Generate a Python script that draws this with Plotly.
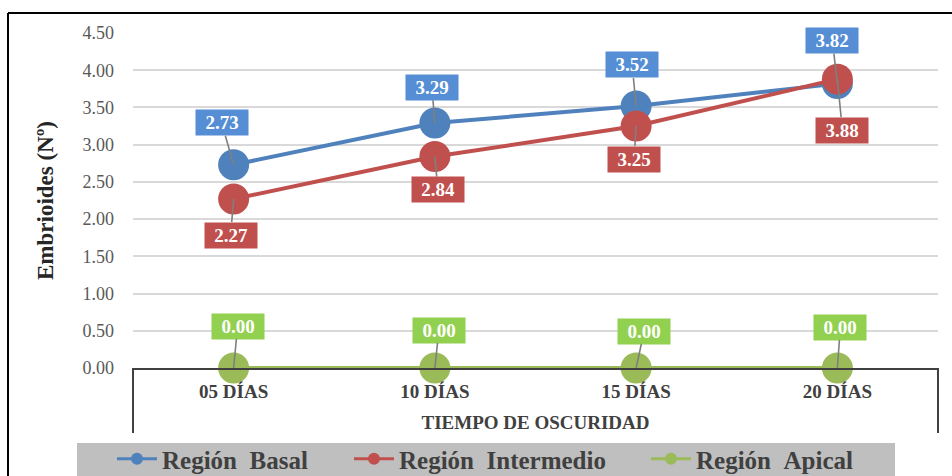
import plotly.graph_objects as go

# ---------------- data ----------------
categories = ["05 DÍAS", "10 DÍAS", "15 DÍAS", "20 DÍAS"]
basal = [2.73, 3.29, 3.52, 3.82]
intermedio = [2.27, 2.84, 3.25, 3.88]
apical = [0.00, 0.00, 0.00, 0.00]
series_names = ["Región\u00a0\u00a0Basal", "Región\u00a0\u00a0Intermedio", "Región\u00a0\u00a0Apical"]
y_ticks = [0, 0.5, 1.0, 1.5, 2.0, 2.5, 3.0, 3.5, 4.0, 4.5]

# ---------------- styles ----------------
line_colors = ["#4F81BD", "#C0504D", "#9BBB59"]
label_colors = ["#558ED5", "#C0504D", "#92D050"]
# label offsets (pixels) relative to each point
label_offsets = [
    [(-12, -42), (-3, -36), (-4, -41), (-5, -43)],
    [(-3, 36), (3, 33), (-2, 33), (5, 51)],
    [(4, -42), (4, -38), (8, -37), (3, -41)],
]
SERIF = "Liberation Serif, Times New Roman, serif"

series = [basal, intermedio, apical]

fig = go.Figure()
for vals, name, col in zip(series, series_names, line_colors):
    fig.add_trace(go.Scatter(
        x=categories, y=vals, mode="lines+markers", name=name,
        line=dict(color=col, width=4),
        marker=dict(color=col, size=31),
        cliponaxis=False, showlegend=False, hoverinfo="skip",
    ))

legend_ids = ["legend", "legend2", "legend3"]
for name, col, lid in zip(series_names, line_colors, legend_ids):
    fig.add_trace(go.Scatter(
        x=[None], y=[None], mode="lines+markers", name=name,
        line=dict(color=col, width=3), marker=dict(color=col, size=12),
        showlegend=True, legend=lid,
    ))

annotations = []
for vals, col, offs in zip(series, label_colors, label_offsets):
    for cat, v, (dx, dy) in zip(categories, vals, offs):
        annotations.append(dict(
            x=cat, y=v, xref="x", yref="y", text=f"<b>{v:.2f}</b>",
            showarrow=True, arrowhead=0, arrowwidth=1.6, arrowcolor="#7F7F7F",
            standoff=0, ax=dx, ay=dy,
            bgcolor=col, borderpad=2, width=48, height=21,
            font=dict(family=SERIF, size=19, color="white"),
        ))

plot_w = 952 - 133 - 14
plot_h = 476 - 33 - 108

def px_x(p):
    return (p - 133) / plot_w

def px_y(p):
    return (368 - p) / plot_h

shapes = [
    # legend grey band
    dict(type="rect", xref="paper", yref="paper", x0=px_x(77), x1=px_x(895),
         y0=px_y(443), y1=px_y(480), fillcolor="#BFBFBF", line=dict(width=0), layer="below"),
    # category bracket sides
    dict(type="line", xref="paper", yref="paper", x0=0, x1=0, y0=0, y1=px_y(433),
         line=dict(color="#404040", width=2)),
    dict(type="line", xref="paper", yref="paper", x0=1, x1=1, y0=0, y1=px_y(433),
         line=dict(color="#404040", width=2)),
    # outer border (top + left)
    dict(type="line", xref="paper", yref="paper", x0=px_x(8), x1=px_x(960), y0=px_y(13), y1=px_y(13),
         line=dict(color="black", width=2)),
    dict(type="line", xref="paper", yref="paper", x0=px_x(8), x1=px_x(8), y0=px_y(13), y1=px_y(480),
         line=dict(color="black", width=2)),
]

leg_font = dict(family=SERIF, size=25, color="#404040", weight="bold")
leg_common = dict(orientation="h", bgcolor="rgba(0,0,0,0)", font=leg_font,
                  yanchor="middle", xanchor="left", y=px_y(459), itemwidth=40)

fig.update_layout(
    width=952, height=476,
    margin=dict(l=133, r=14, t=33, b=108, autoexpand=False),
    paper_bgcolor="white", plot_bgcolor="white",
    font=dict(family=SERIF),
    showlegend=True,
    legend=dict(**leg_common, x=px_x(112)),
    legend2=dict(**leg_common, x=px_x(349)),
    legend3=dict(**leg_common, x=px_x(646)),
    xaxis=dict(
        type="category", range=[-0.5, 3.5], showgrid=False, zeroline=False,
        showline=True, linecolor="#404040", linewidth=2,
        ticks="", ticklabelstandoff=5,
        tickfont=dict(family=SERIF, size=19, color="#404040", weight="bold"),
        title=dict(text="TIEMPO DE OSCURIDAD", standoff=15,
                   font=dict(family=SERIF, size=19, color="#404040", weight="bold")),
    ),
    yaxis=dict(
        range=[0, 4.5], tickvals=y_ticks, ticktext=[f"{t:.2f}" for t in y_ticks],
        showgrid=True, gridcolor="#D9D9D9", gridwidth=1.5, zeroline=False,
        showline=False, ticks="", ticklabelstandoff=18,
        tickfont=dict(family=SERIF, size=18, color="#595959"),
        title=dict(text="Embrioides (Nº)", standoff=22,
                   font=dict(family=SERIF, size=23, color="#262626", weight="bold")),
    ),
    shapes=shapes,
    annotations=annotations,
)

fig.write_html("out.html", config={"displayModeBar": False},
               post_script="document.body.style.margin='0px';document.body.style.overflow='hidden';")
